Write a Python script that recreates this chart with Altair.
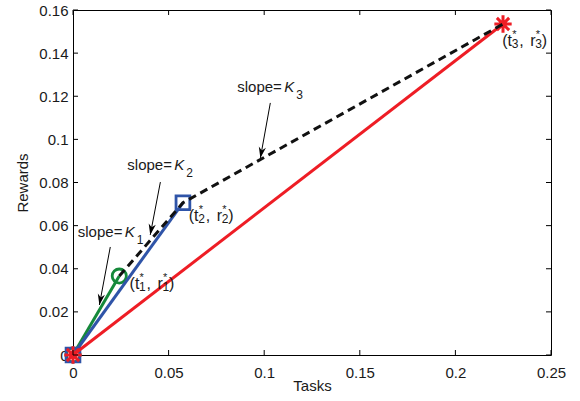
import altair as alt
import pandas as pd

# ---- data ----
# optimal points (t*, r*): origin, then 1, 2, 3
tasks = [0.0, 0.0242, 0.0575, 0.2249]
rewards = [0.0, 0.0366, 0.0706, 0.1535]

x_ticks = [0, 0.05, 0.10, 0.15, 0.20, 0.25]
y_ticks = [0, 0.02, 0.04, 0.06, 0.08, 0.10, 0.12, 0.14, 0.16]

# point label anchors (left edge, vertical centre)
label_idx = ["1", "2", "3"]
label_x = [0.0296, 0.0605, 0.2245]
label_y = [0.0329, 0.0645, 0.1454]

# slope annotations
slope_idx = ["1", "2", "3"]
slope_text_x = [0.0025, 0.0284, 0.0859]
slope_text_y = [0.0571, 0.0881, 0.1243]
arrow_x0 = [0.0195, 0.0457, 0.1032]
arrow_y0 = [0.0501, 0.0802, 0.1169]
arrow_x1 = [0.0138, 0.0404, 0.0980]
arrow_y1 = [0.0232, 0.0557, 0.0914]

# ---- styling ----
FONT = "Liberation Sans"
TXT = "#1a1a1a"
GREEN = "#15893a"
BLUE = "#2f54a8"
RED = "#ee1d25"
W, H = 478, 345

pts = pd.DataFrame({"t": tasks, "r": rewards, "i": list(range(len(tasks)))})
green_df = pts.iloc[[0, 1]]
blue_df = pts.iloc[[0, 2]]
red_df = pts.iloc[[0, 3]]
dash_df = pts.iloc[[1, 2, 3]]

labels = pd.DataFrame({"lx": label_x, "ly": label_y, "n": label_idx})
slopes = pd.DataFrame({"sx": slope_text_x, "sy": slope_text_y, "n": slope_idx,
                       "x0": arrow_x0, "y0": arrow_y0, "x1": arrow_x1, "y1": arrow_y1})
xt = pd.DataFrame({"v": x_ticks})
yt = pd.DataFrame({"v": y_ticks})

xs = alt.Scale(domain=[0, 0.25], nice=False, zero=False)
ys = alt.Scale(domain=[0, 0.16], nice=False, zero=False)

x_axis = alt.Axis(values=x_ticks, format=".2~f", title="Tasks", grid=False,
                  ticks=False, tickSize=0, domain=False, labelPadding=10,
                  labelFlush=False, labelOverlap=False, labelFont=FONT,
                  labelFontSize=15, labelColor=TXT, titleFont=FONT,
                  titleFontSize=15, titleFontWeight="normal", titleColor=TXT,
                  titleY=23, titleX=W / 2)
y_axis = alt.Axis(values=y_ticks, format=".2~f", title="Rewards", grid=False,
                  ticks=False, tickSize=0, domain=False, labelPadding=5,
                  labelFlush=False, labelOverlap=False, labelFont=FONT,
                  labelFontSize=15, labelColor=TXT, titleFont=FONT,
                  titleFontSize=15, titleFontWeight="normal", titleColor=TXT,
                  titleAngle=270, titleBaseline="alphabetic", titleAlign="center",
                  titleX=-46, titleY=H / 2)


def X(f):
    return alt.X(f, type="quantitative", scale=xs, axis=x_axis)


def Y(f):
    return alt.Y(f, type="quantitative", scale=ys, axis=y_axis)


def line(df, color, dash=None):
    kw = dict(color=color, strokeWidth=3)
    if dash:
        kw["strokeDash"] = dash
    return alt.Chart(df).mark_line(**kw).encode(x=X("t"), y=Y("r"), order="i:Q")


ASTER = "M0,-1L0,1M-1,0L1,0M-0.71,-0.71L0.71,0.71M-0.71,0.71L0.71,-0.71"
ARROW = "M0,0L-0.33,-1L0,-0.7L0.33,-1Z"

layers = []
layers.append(line(green_df, GREEN))
layers.append(alt.Chart(green_df).mark_point(shape="circle", filled=False, size=200,
                                             strokeWidth=2.8, color=GREEN, opacity=1)
              .encode(x=X("t"), y=Y("r")))
layers.append(line(blue_df, BLUE))
layers.append(alt.Chart(blue_df).mark_point(shape="square", filled=False, size=190,
                                            strokeWidth=2.8, color=BLUE, opacity=1)
              .encode(x=X("t"), y=Y("r")))
layers.append(line(red_df, RED))
layers.append(alt.Chart(red_df).mark_point(shape=ASTER, filled=False, size=300,
                                           strokeWidth=3, color=RED, opacity=1)
              .encode(x=X("t"), y=Y("r")))
layers.append(line(dash_df, "#111111", dash=[8, 5]))

# inward ticks on all four sides
layers.append(alt.Chart(xt).mark_rule(color="#000", strokeWidth=1).encode(
    x=X("v"), y=alt.value(H), y2=alt.value(H - 5)))
layers.append(alt.Chart(xt).mark_rule(color="#000", strokeWidth=1).encode(
    x=X("v"), y=alt.value(0), y2=alt.value(5)))
layers.append(alt.Chart(yt).mark_rule(color="#000", strokeWidth=1).encode(
    y=Y("v"), x=alt.value(0), x2=alt.value(5)))
layers.append(alt.Chart(yt).mark_rule(color="#000", strokeWidth=1).encode(
    y=Y("v"), x=alt.value(W - 5), x2=alt.value(W)))


def piece(df, xf, yf, text, dx, dy=0, size=15, style="normal"):
    enc = dict(x=X(xf), y=Y(yf))
    if text.startswith("@"):
        enc["text"] = alt.Text(text[1:] + ":N")
    else:
        enc["text"] = alt.value(text)
    return alt.Chart(df).mark_text(align="left", baseline="middle", dx=dx, dy=dy,
                                   font=FONT, fontSize=size, fontStyle=style,
                                   color=TXT).encode(**enc)


# point labels (t*_n, r*_n)
layers += [
    piece(labels, "lx", "ly", "(t", 0, 0, 16),
    piece(labels, "lx", "ly", "@n", 9.5, 3, 12),
    piece(labels, "lx", "ly", "*", 10, -6, 11),
    piece(labels, "lx", "ly", ",", 17, 0, 16),
    piece(labels, "lx", "ly", "r", 28, 0, 16),
    piece(labels, "lx", "ly", "@n", 33, 3, 12),
    piece(labels, "lx", "ly", "*", 33.5, -6, 11),
    piece(labels, "lx", "ly", ")", 39.5, 0, 16),
]

# slope annotations
layers += [
    piece(slopes, "sx", "sy", "slope=", 0),
    piece(slopes, "sx", "sy", "K", 47, 0, 15, "italic"),
    piece(slopes, "sx", "sy", "@n", 59, 8, 12),
]
layers.append(alt.Chart(slopes).mark_rule(color="#000", strokeWidth=1).encode(
    x=X("x0"), y=Y("y0"), x2="x1:Q", y2="y1:Q"))
layers.append(alt.Chart(slopes).mark_point(shape=ARROW, filled=True, size=480, angle=10.5,
                                           color="#000", opacity=1, strokeWidth=0)
              .encode(x=X("x1"), y=Y("y1")))

chart = alt.layer(*layers).properties(
    width=W, height=H,
    autosize=alt.AutoSizeParams(type="none"),
    padding={"left": 73, "top": 10, "right": 29, "bottom": 46},
    background="white",
).configure_view(stroke="#000", strokeWidth=1)

chart.save("out.html", embed_options={"renderer": "svg", "actions": False})
